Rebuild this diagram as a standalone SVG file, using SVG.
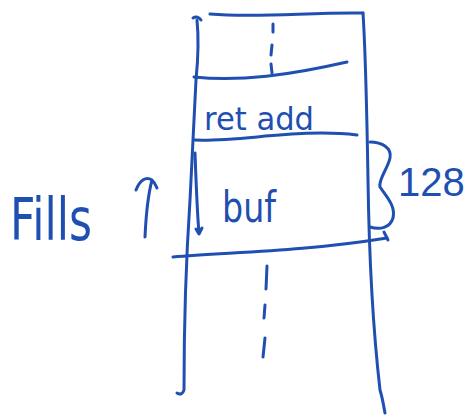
<svg xmlns="http://www.w3.org/2000/svg" width="473" height="417" viewBox="0 0 473 417">
<style>
.ink{fill:none;stroke:#1f4fb0;stroke-width:3;stroke-linecap:round;stroke-linejoin:round}
.txt{fill:#1f4fb0;font-family:"DejaVu Sans","Liberation Sans",sans-serif}
</style>
<rect width="473" height="417" fill="#fff"/>
<g id="stack">
<path class="ink" d="M197 20 C199 40 198 60 196 80 C194 120 192 160 190 200 C186 260 184 320 184 390 C183 394 180 395 177 393"/>
<path class="ink" d="M193 18 C196 16 199 17 201 20"/>
<path class="ink" d="M210 14 C260 18 310 12 363 13"/>
<path class="ink" d="M363 13 C366 60 367 120 368 180 C369 250 372 320 380 390 C383 400 384 408 385 413"/>
<path class="ink" d="M194 77 C240 82 290 75 347 62"/>
<path class="ink" d="M195 140 C240 142 300 128 357 135"/>
<path class="ink" d="M173 257 C230 252 300 252 387 238"/>
<path class="ink" d="M273 24 L273 32 M272 45 L271 55 M271 64 L272 73"/>
<path class="ink" d="M267 266 L266 289 M265 305 L264 318 M265 338 L263 357"/>
<path class="ink" d="M195 153 C196 180 197 210 199 233 M196 229 L199 234 L202 228"/>
</g>
<g id="brace">
<path class="ink" d="M370 142 C382 142 392 148 390 158 C388 168 378 180 380 187 C386 196 396 206 393 218 C390 228 380 230 370 227"/>
<path class="ink" d="M384 232 L388 240"/>
</g>
<g id="labels">
<text class="txt" x="204" y="130" font-size="32" textLength="110" lengthAdjust="spacingAndGlyphs">ret add</text>
<text class="txt" x="222" y="222" font-size="42" textLength="54" lengthAdjust="spacingAndGlyphs">buf</text>
<text class="txt" x="398" y="196" font-size="40" style="font-family:'Liberation Sans',sans-serif">128</text>
<text class="txt" x="10" y="240" font-size="58" textLength="82" lengthAdjust="spacingAndGlyphs">Fills</text>
<path class="ink" d="M145 237 C146 215 148 195 152 180 M136 190 C140 180 146 176 152 180 C155 183 156 186 157 188"/>
</g>
</svg>
